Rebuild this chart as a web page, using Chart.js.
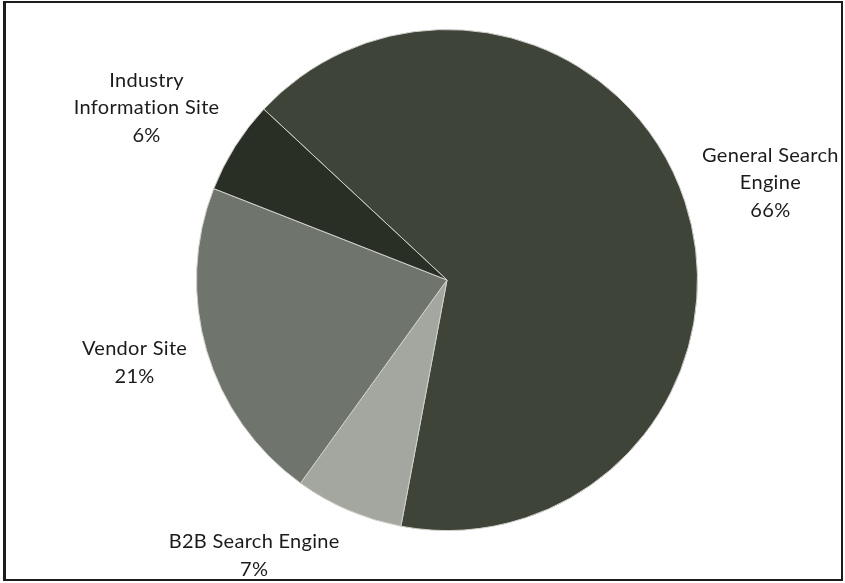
<!DOCTYPE html>
<html>
<head>
<meta charset="utf-8">
<script src="https://cdn.jsdelivr.net/npm/chart.js@4/dist/chart.umd.min.js"></script>
<style>
  html, body { margin: 0; padding: 0; background: #ffffff; }
  #wrap { position: relative; width: 845px; height: 583px; overflow: hidden; }
  #chart { position: absolute; left: 0; top: 0; }
  #frame {
    position: absolute; left: 3px; top: 1px; width: 840px; height: 580px;
    box-sizing: border-box; border: 2px solid #1c1c1c; border-left-width: 3px;
    pointer-events: none;
  }
</style>
</head>
<body>
<div id="wrap">
  <canvas id="chart" width="845" height="583"></canvas>
  <div id="frame"></div>
</div>
<script>
// Where people first look for information (share of respondents, %)
const categories = [
  ['General Search', 'Engine'],
  ['B2B Search Engine'],
  ['Vendor Site'],
  ['Industry', 'Information Site']
];
const shares = [66, 7, 21, 6];
const sliceColors = ['#3f4439', '#a3a79f', '#6f746d', '#2a2f26'];

// Label anchors, in polar terms around the pie centre
// (angle in degrees clockwise from 12 o'clock, distance in outer radii)
const labelAnchors = [
  { angle: 73.3, dist: 1.348 },
  { angle: 215.0, dist: 1.342 },
  { angle: 255.2, dist: 1.290 },
  { angle: 299.8, dist: 1.382 }
];

const sliceLabels = {
  id: 'sliceLabels',
  afterDatasetsDraw(chart) {
    const meta = chart.getDatasetMeta(0);
    const ctx = chart.ctx;
    const values = chart.data.datasets[0].data;
    ctx.save();
    ctx.font = '20px Lato, "Open Sans", sans-serif';
    if ('letterSpacing' in ctx) ctx.letterSpacing = '0.3px';
    ctx.fillStyle = '#1b1b1b';
    ctx.textAlign = 'center';
    ctx.textBaseline = 'middle';
    const lineHeight = 27.5;
    meta.data.forEach((arc, i) => {
      const { x, y, outerRadius } = arc.getProps(['x', 'y', 'outerRadius'], true);
      const anchor = labelAnchors[i];
      const a = anchor.angle * Math.PI / 180;
      const cx = x + Math.sin(a) * outerRadius * anchor.dist;
      const cy = y - Math.cos(a) * outerRadius * anchor.dist;
      const lines = [...categories[i], values[i] + '%'];
      lines.forEach((t, k) => {
        ctx.fillText(t, cx, cy + (k - (lines.length - 1) / 2) * lineHeight);
      });
    });
    ctx.restore();
  }
};

new Chart(document.getElementById('chart'), {
  type: 'pie',
  data: {
    labels: categories.map(c => c.join(' ')),
    datasets: [{
      data: shares,
      backgroundColor: sliceColors,
      borderColor: '#cfd0ca',
      borderWidth: 1
    }]
  },
  options: {
    responsive: false,
    animation: false,
    rotation: -47,
    layout: { padding: { left: 196, right: 147, top: 29, bottom: 52 } },
    plugins: {
      legend: { display: false },
      tooltip: { enabled: false }
    }
  },
  plugins: [sliceLabels]
});
</script>
</body>
</html>
